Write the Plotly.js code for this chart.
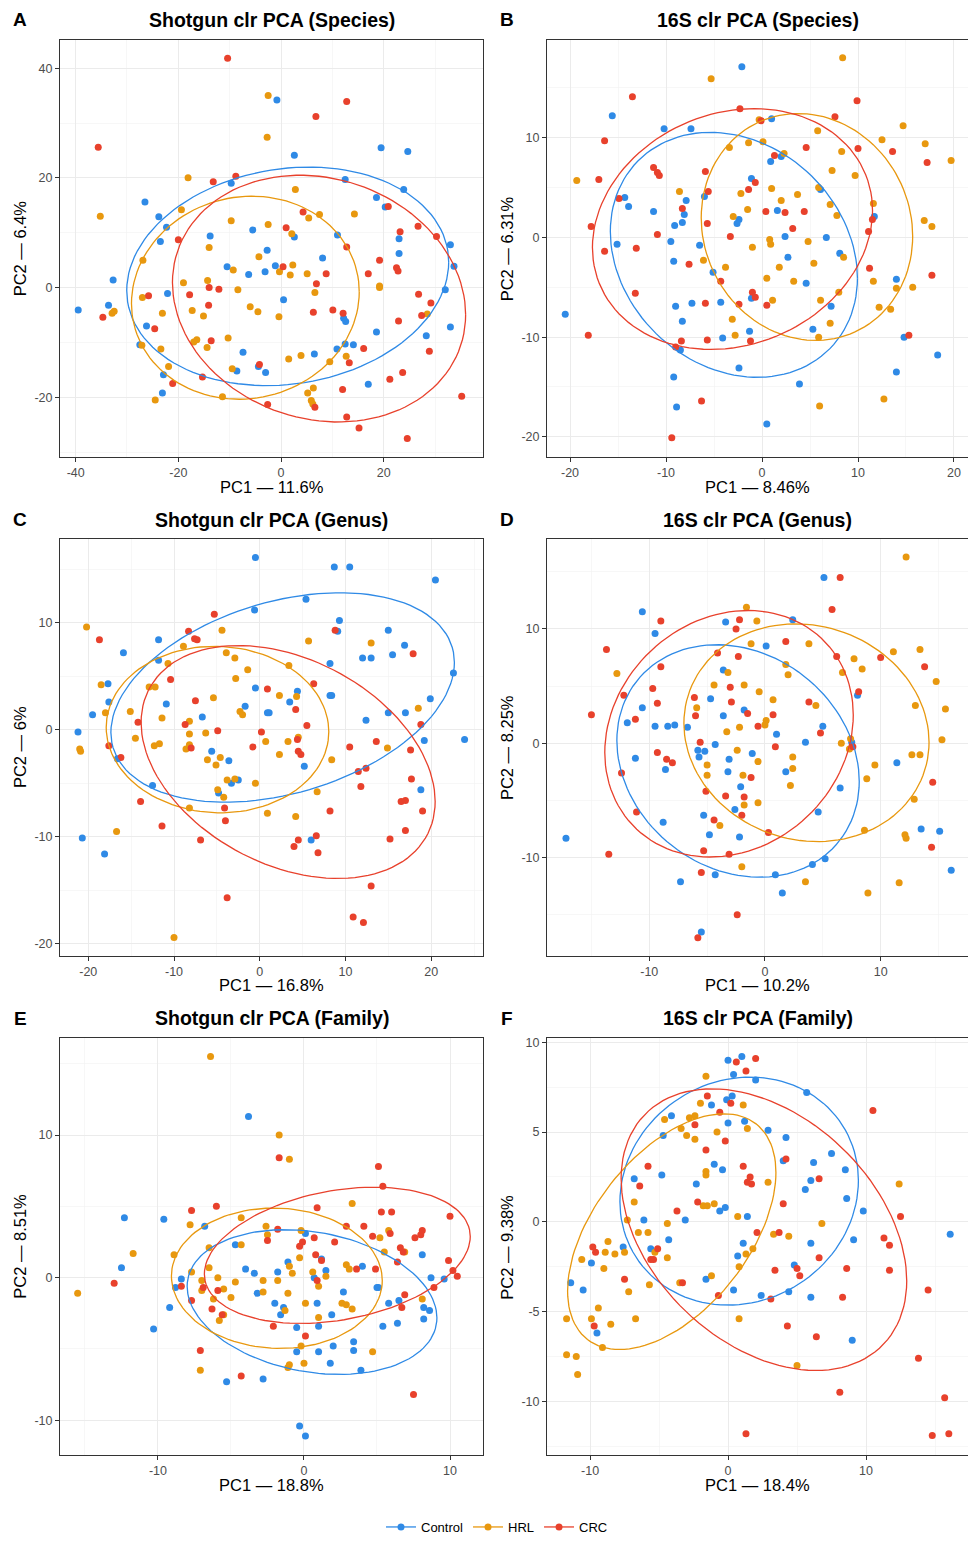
<!DOCTYPE html>
<html><head><meta charset="utf-8">
<script src="https://cdn.plot.ly/plotly-3.0.1.min.js"></script>
<style>html,body{margin:0;padding:0;background:#fff}#chart{width:968px;height:1542px}</style>
</head><body><div id="chart"></div>
<script>
const groups = ['Control', 'HRL', 'CRC'];
const groupColors = ['#2f8ae6', '#e8980f', '#e8412c'];

const panelTitles = ['Shotgun clr PCA (Species)', '16S clr PCA (Species)', 'Shotgun clr PCA (Genus)', '16S clr PCA (Genus)', 'Shotgun clr PCA (Family)', '16S clr PCA (Family)'];
const panelLetters = ['A', 'B', 'C', 'D', 'E', 'F'];
const xTitles = ['PC1 — 11.6%', 'PC1 — 8.46%', 'PC1 — 16.8%', 'PC1 — 10.2%', 'PC1 — 18.8%', 'PC1 — 18.4%'];
const yTitles = ['PC2 — 6.4%', 'PC2 — 6.31%', 'PC2 — 6%', 'PC2 — 8.25%', 'PC2 — 8.51%', 'PC2 — 9.38%'];

const A_xticks = [-40, -20, 0, 20], A_yticks = [-20, 0, 20, 40];
const B_xticks = [-20, -10, 0, 10, 20], B_yticks = [-20, -10, 0, 10];
const C_xticks = [-20, -10, 0, 10, 20], C_yticks = [-20, -10, 0, 10];
const D_xticks = [-10, 0, 10], D_yticks = [-10, 0, 10];
const E_xticks = [-10, 0, 10], E_yticks = [-10, 0, 10];
const F_xticks = [-10, 0, 10], F_yticks = [-10, -5, 0, 5, 10];

const A_Control = [[-26.5,15.6],[-23.8,12.9],[-22.3,11.0],[-23.5,8.4],[-32.7,1.4],[-39.5,-4.1],[-33.6,-3.2],[-22.1,-1.1],[-26.2,-7.0],[-27.5,-10.4],[-22.9,-15.9],[-23.1,-19.2],[-9.7,19.0],[-13.8,9.4],[-5.5,10.5],[-2.7,6.8],[-10.5,3.8],[-6.3,2.4],[-3.1,2.9],[-7.4,-11.8],[-8.6,-15.2],[-4.4,-14.4],[-3.0,-15.5],[-0.8,34.2],[2.6,24.1],[19.5,25.5],[24.7,24.8],[12.5,19.7],[23.9,17.9],[18.6,16.4],[20.3,14.7],[2.6,9.2],[11.0,9.6],[23.0,8.9],[23.0,6.2],[33.0,7.8],[33.7,3.9],[-1.1,4.0],[8.1,5.4],[32.0,-0.4],[0.5,-2.2],[12.2,-5.6],[12.6,-6.2],[18.6,-8.1],[33.0,-7.2],[28.3,-8.8],[10.9,-11.2],[12.5,-10.3],[14.1,-10.4],[6.5,-12.1],[17.0,-17.6]];
const A_HRL = [[-2.5,35.0],[-2.7,27.4],[-18.1,20.0],[-35.2,13.0],[-19.4,14.2],[-9.7,12.2],[-2.5,11.5],[-26.9,5.0],[-14.0,7.3],[-4.3,5.6],[-9.3,3.2],[-19.0,0.9],[-14.3,1.3],[-8.4,-0.4],[-27.0,-1.8],[-32.9,-4.7],[-32.5,-4.3],[-23.1,-4.7],[-17.3,-4.2],[-15.1,-5.2],[-6.0,-3.5],[-4.5,-4.4],[-27.1,-10.5],[-23.4,-11.2],[-17.0,-9.9],[-16.4,-9.5],[-14.4,-10.9],[-10.3,-9.2],[-21.9,-14.4],[-9.5,-14.8],[-24.5,-20.5],[-11.4,-19.9],[2.8,17.9],[5.4,12.7],[7.5,13.3],[14.3,13.4],[2.1,9.8],[2.3,4.1],[-0.3,2.9],[1.8,2.3],[5.1,2.5],[6.6,-0.9],[19.2,0.3],[19.2,0.0],[-0.4,-5.3],[28.5,-4.8],[1.5,-13.0],[3.9,-12.4],[12.7,-12.5],[9.5,-13.5],[5.2,-19.2],[6.3,-18.3],[5.9,-20.6],[6.2,-21.2]];
const A_CRC = [[-10.4,41.8],[-35.6,25.6],[-13.2,19.3],[-8.8,20.3],[-20.0,8.7],[-25.8,-1.5],[-34.7,-5.4],[-24.6,-7.5],[-17.8,-1.3],[-14.0,0.0],[-12.1,-0.3],[-14.1,-3.2],[-13.6,-9.7],[-15.3,-16.3],[-21.1,-17.5],[-4.2,-14.0],[-2.6,-21.3],[12.8,33.9],[6.8,31.2],[4.3,13.8],[1.0,10.9],[20.9,14.8],[23.2,10.2],[26.7,11.2],[30.3,9.3],[12.8,7.4],[19.2,5.0],[22.5,3.6],[22.8,3.0],[17.0,2.5],[8.8,2.5],[0.4,3.8],[6.9,0.7],[26.8,-1.2],[29.2,-2.8],[27.4,-5.1],[22.9,-6.1],[6.3,-4.5],[10.1,-4.1],[12.1,-4.7],[16.1,-11.1],[13.3,-13.7],[28.9,-11.6],[23.7,-15.5],[21.2,-16.7],[12.0,-18.6],[6.6,-21.8],[12.8,-23.6],[15.2,-25.6],[24.6,-27.5],[35.2,-19.8]];

const B_Control = [[-2.1,17.1],[-15.6,12.2],[-10.2,10.9],[-7.4,10.9],[-14.3,4.0],[-13.9,3.1],[-11.3,2.6],[-7.9,3.7],[-8.1,2.3],[-8.3,1.5],[-9.1,1.2],[-6.0,4.1],[-1.1,5.9],[-2.4,1.8],[-2.6,1.4],[-15.1,-0.7],[-9.5,-0.4],[-6.5,-0.8],[-9.2,-2.4],[-5.1,-3.5],[-1.1,-6.1],[-9.0,-6.9],[-7.3,-6.6],[-4.3,-6.5],[-8.3,-8.4],[-20.5,-7.7],[-4.1,-10.1],[-1.3,-9.4],[-8.5,-11.3],[-2.4,-13.1],[-9.2,-14.0],[-8.9,-17.0],[1.0,11.9],[0.9,7.6],[2.0,8.1],[6.1,4.8],[1.6,2.7],[2.4,0.1],[6.7,0.0],[2.7,-2.0],[8.1,-1.6],[11.7,2.1],[4.6,-4.6],[7.2,-6.9],[14.0,-4.2],[5.3,-9.2],[14.8,-10.0],[18.3,-11.8],[14.0,-13.5],[3.9,-14.7],[0.5,-18.7]];
const B_HRL = [[-5.3,15.9],[-19.3,5.7],[-3.4,9.0],[-1.4,9.5],[-8.6,4.6],[-2.2,4.4],[-1.5,2.8],[-3.0,2.1],[-1.0,-1.0],[-6.1,-2.3],[-3.8,-3.0],[-3.1,-8.2],[-2.8,-9.8],[8.4,18.0],[-0.3,11.8],[0.1,9.6],[2.3,8.4],[5.8,10.7],[8.3,8.6],[7.3,6.7],[9.7,6.2],[12.5,9.8],[14.7,11.2],[17.0,9.4],[19.7,7.7],[1.0,4.9],[2.0,3.7],[3.7,4.3],[5.9,5.0],[7.1,3.3],[7.8,2.2],[11.6,3.4],[16.9,1.7],[17.7,1.1],[0.8,-0.2],[0.9,-0.7],[4.8,-0.4],[8.5,-2.0],[5.4,-2.6],[1.8,-3.0],[0.5,-4.1],[3.3,-4.4],[11.6,-4.4],[14.0,-5.1],[15.7,-5.0],[8.0,-5.5],[1.1,-6.3],[6.1,-6.3],[12.2,-7.0],[13.4,-7.2],[7.1,-8.6],[5.9,-10.0],[12.7,-16.2],[6.0,-16.9]];
const B_CRC = [[-13.5,14.1],[-2.3,12.9],[-16.4,9.7],[-17.0,5.8],[-11.3,7.0],[-10.9,6.5],[-10.7,6.2],[-5.9,6.6],[-5.6,4.6],[-0.7,5.5],[-1.4,4.8],[-14.9,3.9],[-8.3,2.9],[-17.8,1.1],[-10.9,0.3],[-5.7,1.4],[-3.3,0.1],[-16.4,-1.4],[-13.1,-1.1],[-7.6,-2.7],[-4.3,-4.4],[-13.2,-5.6],[-1.0,-5.5],[-0.7,-6.0],[-5.9,-6.6],[-2.4,-6.7],[-18.1,-9.8],[-8.4,-10.4],[-9.0,-11.0],[-5.7,-10.3],[-1.2,-10.4],[-6.3,-16.4],[-9.4,-20.1],[9.9,13.7],[-0.1,11.7],[7.6,12.1],[1.3,8.2],[4.6,9.0],[10.0,8.9],[13.6,8.6],[17.2,7.5],[0.4,2.6],[2.4,2.5],[4.4,2.6],[3.2,0.9],[11.5,1.8],[11.1,0.6],[11.2,-3.1],[17.7,-3.8],[0.5,-6.8],[15.3,-9.8]];

const C_Control = [[-0.5,16.1],[-0.6,11.2],[-11.8,8.4],[-15.9,7.2],[-11.8,6.5],[-17.7,4.3],[-17.6,2.6],[-19.5,1.4],[-21.2,-0.2],[-10.9,2.4],[-6.7,1.2],[-1.7,2.2],[-0.5,3.9],[-16.6,-2.7],[-5.6,-2.0],[-3.6,-2.9],[-3.3,-5.0],[-2.5,-4.7],[-12.5,-5.2],[-4.8,-5.9],[-20.7,-10.1],[-18.1,-11.6],[8.7,15.2],[10.5,15.2],[20.5,14.0],[5.4,12.2],[9.3,10.2],[9.1,9.2],[15.0,9.3],[16.9,7.9],[15.5,7.0],[12.0,6.7],[13.0,6.7],[8.2,6.2],[22.6,5.3],[4.4,3.6],[3.5,2.6],[0.9,1.6],[1.1,1.6],[8.2,3.2],[8.4,3.2],[19.9,2.9],[12.4,0.9],[15.0,1.6],[17.0,1.6],[19.2,-1.0],[23.9,-0.9],[5.2,-3.4],[18.8,-5.6],[6.0,-10.3]];
const C_HRL = [[-20.2,9.6],[-18.5,4.2],[-18.0,1.6],[-21.0,-1.8],[-20.9,-2.0],[-15.1,1.7],[-14.5,-0.8],[-12.9,4.0],[-12.2,4.0],[-11.4,1.1],[-12.3,-1.5],[-11.7,-1.3],[-10.7,6.2],[-8.9,7.8],[-4.4,9.3],[-3.9,7.2],[-2.9,6.7],[-2.8,4.8],[-1.4,5.6],[-5.4,3.0],[-8.2,0.8],[-8.2,-0.4],[-6.3,-0.3],[-8.6,-1.8],[-8.2,-1.4],[-2.3,1.7],[-2.0,1.4],[0.7,-1.1],[-6.1,-2.8],[-4.6,-2.6],[-5.1,-3.3],[-3.8,-4.7],[-2.9,-4.6],[-0.5,-5.0],[-4.9,-5.6],[-4.2,-6.3],[-8.2,-7.3],[-16.7,-9.5],[-10.0,-19.4],[5.7,8.3],[13.0,8.1],[3.4,6.0],[2.3,3.2],[4.3,3.1],[3.3,-1.1],[4.5,-0.7],[2.3,-2.3],[8.4,-2.8],[18.5,2.0],[14.9,-1.7],[6.7,-5.8],[0.9,-7.8],[4.2,-8.1]];
const C_CRC = [[-5.3,10.8],[-18.7,8.4],[-8.3,9.2],[-7.6,8.5],[-7.3,8.4],[-10.4,4.7],[-7.5,2.7],[-14.2,0.7],[-8.7,0.5],[-4.9,-0.1],[0.2,-0.2],[-0.8,-1.6],[-17.6,-1.5],[-16.2,-2.6],[-8.0,-1.7],[-13.9,-6.7],[-11.4,-9.0],[-6.9,-10.3],[-4.1,-7.3],[-4.0,-8.5],[-3.8,-15.7],[8.8,9.3],[17.9,7.1],[0.9,3.8],[6.3,4.3],[4.2,1.9],[5.5,0.4],[4.4,-0.9],[4.5,-2.0],[4.8,-2.3],[10.5,-1.6],[13.6,-1.1],[18.8,0.5],[17.6,-1.9],[11.5,-3.9],[12.4,-3.6],[11.8,-5.3],[17.7,-4.6],[16.5,-6.7],[17.0,-6.6],[19.0,-7.6],[8.2,-7.6],[17.0,-9.4],[15.2,-10.2],[6.6,-9.9],[4.5,-10.3],[4.0,-10.9],[6.8,-11.5],[13.0,-14.6],[10.9,-17.5],[12.1,-18.0]];

const D_Control = [[-10.6,11.5],[-9.5,9.6],[-3.4,10.6],[-3.6,6.4],[-4.7,3.9],[-3.6,2.4],[-1.8,2.9],[-10.6,3.1],[-11.9,1.8],[-9.5,1.5],[-8.4,1.5],[-7.8,1.6],[-6.7,1.4],[-4.3,-0.1],[-5.8,-0.6],[-5.2,-0.7],[-5.7,-1.2],[-3.1,-1.4],[-1.1,-0.9],[-11.2,-1.3],[-8.6,-2.3],[-3.2,-2.5],[-2.1,-3.8],[-2.6,-5.8],[-5.3,-6.3],[-8.8,-6.9],[-4.8,-8.0],[-2.2,-8.2],[-17.2,-8.3],[-4.3,-11.5],[-7.3,-12.1],[-5.5,-16.5],[5.1,14.5],[2.4,10.8],[0.1,8.5],[8.0,4.2],[5.0,1.5],[1.0,0.8],[3.5,0.1],[7.5,0.1],[1.8,-2.5],[11.4,-1.7],[6.5,-3.9],[4.6,-6.0],[13.5,-7.5],[15.1,-7.7],[5.2,-10.1],[4.1,-10.6],[0.9,-11.5],[1.5,-13.1],[16.1,-11.1]];
const D_HRL = [[-1.6,11.9],[-1.2,8.7],[-12.8,6.1],[-3.2,6.2],[-4.4,5.1],[-1.8,5.1],[-5.9,3.1],[-3.3,1.0],[-2.2,1.4],[-2.4,-0.6],[-5.0,-1.9],[-5.0,-2.8],[-1.9,-2.8],[-1.8,-5.4],[-3.9,-7.2],[-2.0,-10.8],[12.2,16.3],[-0.7,10.7],[3.8,8.7],[1.8,6.9],[2.0,6.0],[7.7,7.4],[6.7,6.2],[8.4,6.5],[11.1,8.0],[13.4,8.2],[14.8,5.4],[-0.5,4.5],[0.7,3.8],[4.4,3.3],[0.1,2.0],[0.0,1.6],[7.4,0.4],[6.6,0.0],[7.3,-0.5],[-0.6,-1.6],[2.4,-1.2],[2.4,-2.2],[2.2,-3.7],[9.5,-1.9],[8.8,-3.1],[12.7,-1.0],[13.4,-1.0],[13.0,3.3],[15.6,3.0],[15.3,0.3],[12.9,-4.9],[-0.6,-5.2],[8.6,-7.6],[12.1,-8.0],[12.2,-8.3],[3.5,-12.1],[8.9,-13.1],[11.6,-12.2]];
const D_CRC = [[-9.0,10.7],[-2.2,10.8],[-2.5,10.0],[-13.7,8.2],[-4.1,7.9],[-2.3,7.6],[-9.0,6.7],[-9.7,4.8],[-3.0,4.9],[-12.2,4.2],[-9.3,3.5],[-6.1,4.0],[-6.0,2.4],[-2.9,3.6],[-1.5,2.6],[-15.0,2.5],[-11.2,2.1],[-5.6,0.1],[-9.3,-0.8],[-8.5,-1.4],[-8.0,-1.7],[-12.4,-2.6],[-1.2,-3.0],[-5.1,-4.2],[-3.4,-4.6],[-1.8,-4.7],[-2.0,-6.3],[-11.1,-6.0],[-4.4,-6.7],[-13.5,-9.7],[-5.3,-9.4],[-3.1,-9.7],[-5.5,-11.3],[-2.4,-15.0],[-5.8,-17.0],[6.5,14.5],[5.8,11.7],[1.8,8.9],[6.2,7.6],[10.0,7.5],[13.8,6.7],[8.1,4.5],[3.8,3.6],[0.7,2.5],[-0.6,1.5],[4.8,0.9],[0.9,-0.3],[7.6,-0.3],[14.5,-3.4],[0.3,-7.8],[14.4,-9.1]];

const E_Control = [[-3.8,11.3],[-12.3,4.2],[-9.6,4.1],[-6.8,3.6],[-4.7,2.3],[-12.5,0.7],[-8.4,-0.1],[-8.8,-0.7],[-4.0,0.6],[-3.4,0.3],[-3.2,-1.1],[-9.2,-2.1],[-10.3,-3.6],[-5.3,-7.3],[-2.8,-7.1],[0.1,3.1],[-1.1,1.1],[-1.8,0.4],[1.5,0.5],[0.7,0.0],[1.2,1.3],[4.0,0.8],[8.1,1.6],[5.0,-0.7],[5.1,-0.7],[8.7,0.0],[9.6,-0.1],[2.7,-1.0],[-2.0,-1.8],[-1.4,-2.1],[-1.6,-2.6],[0.9,-1.8],[1.9,-2.6],[5.8,-1.8],[6.5,-1.6],[8.2,-2.1],[8.6,-2.3],[8.2,-2.9],[-0.5,-3.5],[1.0,-3.4],[5.4,-3.4],[6.4,-3.2],[-0.5,-5.2],[1.0,-5.2],[2.0,-4.8],[3.4,-4.5],[3.4,-5.1],[1.8,-6.0],[3.9,-6.5],[-0.3,-10.4],[0.1,-11.1]];
const E_HRL = [[-6.4,15.5],[-11.7,1.7],[-15.5,-1.1],[-7.8,3.7],[-8.9,1.6],[-4.3,4.2],[-4.3,2.3],[-6.5,2.1],[-7.7,0.4],[-6.5,0.7],[-5.9,0.0],[-7.0,-0.2],[-7.0,-0.9],[-5.5,-0.8],[-6.2,-1.5],[-5.0,-1.4],[-4.7,-0.3],[-5.5,-2.6],[-5.8,-3.0],[-2.8,-0.2],[-2.8,-1.0],[-2.6,3.6],[-2.5,3.0],[-7.1,-6.5],[-1.7,10.0],[-1.0,8.3],[3.3,5.2],[-0.2,3.3],[5.8,3.3],[5.2,2.8],[5.5,1.8],[6.9,1.8],[-0.3,1.4],[-1.0,0.8],[-0.8,0.3],[-1.8,-0.2],[0.6,0.4],[1.5,0.1],[1.0,-0.6],[2.9,0.9],[3.1,0.6],[-1.1,-1.1],[0.1,-1.8],[-1.3,-2.3],[2.6,-1.8],[2.9,-1.9],[3.3,-2.2],[1.0,-2.8],[8.1,-1.5],[-0.2,-4.8],[-1.0,-6.1],[-1.1,-6.3],[0.0,-6.0],[4.7,-5.2]];
const E_CRC = [[-7.7,4.7],[-6.0,5.0],[-13.0,-0.4],[-8.4,-0.6],[-6.9,-0.7],[-5.9,-0.9],[-7.7,-1.6],[-6.3,-2.2],[-5.6,-2.6],[-2.5,2.6],[-7.1,-5.1],[-4.3,-6.9],[-1.7,8.4],[5.1,7.8],[5.4,6.4],[0.9,4.9],[5.3,4.6],[6.0,4.6],[-1.8,3.4],[2.9,3.6],[4.1,3.6],[0.7,2.8],[2.1,2.5],[4.7,2.9],[5.9,3.1],[-0.1,2.5],[-0.3,2.2],[0.8,1.6],[1.2,1.2],[6.6,2.1],[6.8,1.8],[6.4,1.1],[7.6,2.8],[8.0,3.0],[8.1,3.3],[10.0,4.3],[9.9,1.2],[10.2,0.5],[10.5,0.1],[3.6,0.6],[4.9,0.6],[8.9,-0.7],[0.9,-0.2],[6.9,-1.2],[6.7,-2.1],[-2.1,-3.4],[0.1,-4.1],[7.5,-8.2]];

const F_Control = [[0.0,9.0],[1.0,9.2],[0.4,8.2],[2.0,7.9],[-0.1,6.8],[0.3,7.0],[-1.2,6.5],[-4.1,5.9],[-4.7,4.8],[0.0,5.5],[1.2,5.6],[-1.0,3.2],[-0.4,2.9],[-4.8,2.6],[-6.8,2.4],[-2.3,2.1],[-0.6,0.6],[-0.2,0.8],[1.4,0.3],[-6.1,0.1],[-3.1,0.1],[-4.3,-1.0],[-5.6,-1.5],[-7.6,-1.4],[-9.9,-2.3],[1.1,-1.2],[0.7,-1.9],[-11.4,-3.4],[-10.5,-3.8],[-1.6,-3.2],[0.4,-3.8],[-9.5,-6.2],[5.7,7.2],[2.9,5.1],[4.2,4.7],[7.5,3.8],[4.0,3.4],[6.2,3.3],[8.5,2.9],[6.0,2.3],[5.6,1.8],[8.6,1.3],[9.8,0.6],[16.1,-0.7],[6.0,-1.2],[9.1,-1.0],[4.8,-2.4],[2.4,-4.1],[4.4,-3.9],[6.0,-4.2],[9.0,-6.6]];
const F_HRL = [[-1.6,8.1],[-2.0,6.6],[1.1,6.5],[1.4,5.2],[-4.6,5.7],[-2.8,5.8],[-2.4,5.9],[-3.4,5.2],[-3.0,4.8],[-2.4,4.6],[-0.8,5.0],[-1.6,2.8],[-1.6,2.6],[-6.8,1.1],[-1.8,0.9],[-1.5,0.9],[-1.0,1.0],[0.7,0.3],[-7.3,0.1],[-4.4,-0.1],[-6.5,-0.6],[-5.8,-0.6],[-8.7,-1.1],[-8.9,-1.7],[-8.2,-1.8],[-7.5,-1.7],[-5.3,-1.7],[-4.4,-2.0],[1.3,-1.8],[1.8,-1.5],[-10.6,-2.1],[-9.0,-2.6],[0.8,-2.5],[-7.2,-3.9],[-5.7,-3.5],[-3.5,-3.4],[-1.2,-3.0],[-9.4,-4.8],[-11.7,-5.4],[-9.9,-5.4],[-8.5,-5.7],[-6.7,-5.4],[0.8,-5.4],[-9.1,-7.0],[-11.7,-7.4],[-11.0,-7.5],[-10.9,-8.5],[2.9,2.2],[12.4,2.1],[6.8,-0.1],[3.3,-0.7],[4.4,-0.8],[5.0,-8.0]];
const F_CRC = [[0.6,8.9],[1.3,8.4],[2.0,9.1],[-1.5,7.0],[0.2,6.6],[-0.6,6.1],[-2.4,5.4],[-0.2,4.5],[-1.6,4.0],[-5.8,3.1],[-6.4,2.0],[1.1,3.1],[1.6,2.5],[1.4,2.2],[1.7,2.1],[-2.2,1.1],[-3.7,0.6],[-9.8,-1.4],[-9.6,-1.7],[-5.1,-1.5],[-5.6,-2.1],[-5.4,-2.1],[-7.5,-3.2],[-3.3,-3.4],[-0.7,-4.1],[-9.7,-5.8],[10.5,6.2],[4.2,3.5],[6.6,2.4],[4.0,1.0],[12.5,0.3],[2.1,-0.6],[3.7,-0.6],[11.3,-0.9],[11.7,-1.3],[6.6,-2.0],[3.4,-2.7],[5.0,-2.6],[5.2,-3.0],[8.6,-2.6],[11.7,-2.7],[14.5,-3.8],[3.1,-4.3],[8.3,-4.2],[4.3,-5.8],[6.4,-6.4],[13.8,-7.6],[8.1,-9.5],[15.7,-9.8],[14.8,-11.9],[16.0,-11.8],[1.3,-11.8]];

// ---------- layout configuration (positions in px) ----------
const W = 968, H = 1542;
const FONT = 'Liberation Sans, Arial, Helvetica, sans-serif';
const ELLIPSE_LEVEL = 0.75;
const panels = [
  {data:[A_Control,A_HRL,A_CRC], xticks:A_xticks, yticks:A_yticks, xminor:[-30,-10,10,30], yminor:[-30,-10,10,30], xr:[-43.05,39.35], yr:[-30.85,45.15], box:[60,40,483,458], xtY:488, ytX:20, ytY:249, lblY:20},
  {data:[B_Control,B_HRL,B_CRC], xticks:B_xticks, yticks:B_yticks, xminor:[-15,-5,5,15], yminor:[-15,-5,5,15], xr:[-22.4,21.46], yr:[-22.0,19.8], box:[547,40,968,458], xtY:488, ytX:507, ytY:249, lblY:20},
  {data:[C_Control,C_HRL,C_CRC], xticks:C_xticks, yticks:C_yticks, xminor:[-15,-5,5,15,25], yminor:[-15,-5,5,15], xr:[-23.3,26.05], yr:[-21.09,17.86], box:[60,540,483,958], xtY:988, ytX:20, ytY:749, lblY:521},
  {data:[D_Control,D_HRL,D_CRC], xticks:D_xticks, yticks:D_yticks, xminor:[-15,-5,5,15], yminor:[-15,-5,5,15], xr:[-18.84,17.55], yr:[-18.56,17.9], box:[547,540,968,958], xtY:988, ytX:507, ytY:749, lblY:521},
  {data:[E_Control,E_HRL,E_CRC], xticks:E_xticks, yticks:E_yticks, xminor:[-15,-5,5], yminor:[-5,5,15], xr:[-16.71,12.26], yr:[-12.45,16.78], box:[60,1041,483,1459], xtY:1489, ytX:20, ytY:1250, lblY:1021},
  {data:[F_Control,F_HRL,F_CRC], xticks:F_xticks, yticks:F_yticks, xminor:[-5,5,15], yminor:[-12.5,-7.5,-2.5,2.5,7.5], xr:[-13.12,17.39], yr:[-13.0,10.22], box:[547,1041,968,1459], xtY:1489, ytX:507, ytY:1250, lblY:1021}
];

// ---------- stat_ellipse (type "t") computed from the points ----------
function covTrob(pts, nu, maxit, tol) {
  const n = pts.length, p = 2;
  let loc = [0, 0];
  pts.forEach(q => { loc[0] += q[0] / n; loc[1] += q[1] / n; });
  let w = new Array(n).fill(1);
  let X = null;
  for (let it = 0; it < maxit; it++) {
    const w0 = w.slice();
    X = pts.map(q => [q[0] - loc[0], q[1] - loc[1]]);
    const sw = w.reduce((s, v) => s + v, 0);
    let a = 0, b = 0, c = 0;
    X.forEach((v, i) => { const f = w[i] / sw; a += f * v[0] * v[0]; b += f * v[0] * v[1]; c += f * v[1] * v[1]; });
    const det = a * c - b * b;
    const Q = X.map(v => (c * v[0] * v[0] - 2 * b * v[0] * v[1] + a * v[1] * v[1]) / det);
    w = Q.map(q => (nu + p) / (nu + q));
    const sw2 = w.reduce((s, v) => s + v, 0);
    loc = [0, 0];
    pts.forEach((q, i) => { loc[0] += w[i] * q[0] / sw2; loc[1] += w[i] * q[1] / sw2; });
    let done = true;
    for (let i = 0; i < n; i++) if (Math.abs(w[i] - w0[i]) >= tol) { done = false; break; }
    if (done) break;
  }
  let a = 0, b = 0, c = 0;
  X.forEach((v, i) => { a += w[i] * v[0] * v[0] / n; b += w[i] * v[0] * v[1] / n; c += w[i] * v[1] * v[1] / n; });
  return {center: loc, cov: [a, b, c]};
}
function ellipse(pts, level) {
  const n = pts.length;
  const {center, cov} = covTrob(pts, 5, 25, 0.01);
  const [a, b, c] = cov;
  const d = n - 1;
  const qf = (d / 2) * (Math.pow(1 - level, -2 / d) - 1);
  const r = Math.sqrt(2 * qf);
  const R11 = Math.sqrt(a), R12 = b / R11, R22 = Math.sqrt(c - R12 * R12);
  const xs = [], ys = [];
  const seg = 120;
  for (let k = 0; k <= seg; k++) {
    const t = k * 2 * Math.PI / seg, ct = Math.cos(t), st = Math.sin(t);
    xs.push(center[0] + r * ct * R11);
    ys.push(center[1] + r * (ct * R12 + st * R22));
  }
  return {xs, ys};
}

// ---------- build ----------
const traces = [];
const layout = {
  width: W, height: H,
  margin: {l: 0, r: 0, t: 0, b: 0},
  paper_bgcolor: '#ffffff', plot_bgcolor: '#ffffff',
  font: {family: FONT, color: '#000'},
  showlegend: true,
  legend: {orientation: 'h', x: 497 / W, xanchor: 'center', y: 1 - 1531 / H, yanchor: 'middle',
           font: {size: 13, family: FONT, color: '#000'}, itemwidth: 30, bgcolor: 'rgba(0,0,0,0)', tracegroupgap: 0},
  annotations: []
};

panels.forEach((p, i) => {
  const k = i === 0 ? '' : String(i + 1);
  const [l, t, r, b] = p.box;
  const common = {
    showline: true, mirror: true, linecolor: '#333333', linewidth: 1,
    ticks: 'outside', ticklen: 4, tickwidth: 1, tickcolor: '#333333',
    tickfont: {size: 12.5, color: '#4d4d4d', family: FONT},
    showgrid: true, gridcolor: '#ebebeb', gridwidth: 1, zeroline: false,
    tickmode: 'array'
  };
  layout['xaxis' + k] = Object.assign({}, common, {
    domain: [l / W, r / W], anchor: 'y' + k, range: p.xr, fixedrange: true,
    tickvals: p.xticks, ticktext: p.xticks.map(String),
    minor: {tickmode: 'array', tickvals: p.xminor, showgrid: true, gridcolor: '#f2f2f2', gridwidth: 0.6, ticks: ''}
  });
  layout['yaxis' + k] = Object.assign({}, common, {
    domain: [1 - b / H, 1 - t / H], anchor: 'x' + k, range: p.yr, fixedrange: true,
    tickvals: p.yticks, ticktext: p.yticks.map(String),
    minor: {tickmode: 'array', tickvals: p.yminor, showgrid: true, gridcolor: '#f2f2f2', gridwidth: 0.6, ticks: ''}
  });

  p.data.forEach((pts, g) => {
    traces.push({
      type: 'scatter', mode: 'markers', xaxis: 'x' + k, yaxis: 'y' + k,
      x: pts.map(q => q[0]), y: pts.map(q => q[1]),
      marker: {color: groupColors[g], size: 7, line: {width: 0}},
      showlegend: false, hoverinfo: 'skip'
    });
  });
  p.data.forEach((pts, g) => {
    const e = ellipse(pts, ELLIPSE_LEVEL);
    traces.push({
      type: 'scatter', mode: 'lines', xaxis: 'x' + k, yaxis: 'y' + k,
      x: e.xs, y: e.ys, line: {color: groupColors[g], width: 1.3},
      showlegend: false, hoverinfo: 'skip'
    });
  });

  const cx = (l + r) / 2;
  const lblX = l < 300 ? 20 : 507;
  layout.annotations.push({text: '<b>' + panelTitles[i] + '</b>', x: cx / W, y: 1 - p.lblY / H, xref: 'paper', yref: 'paper',
    xanchor: 'center', yanchor: 'middle', showarrow: false, font: {size: 19.5, family: FONT, color: '#000'}});
  layout.annotations.push({text: '<b>' + panelLetters[i] + '</b>', x: lblX / W, y: 1 - p.lblY / H, xref: 'paper', yref: 'paper',
    xanchor: 'center', yanchor: 'middle', showarrow: false, font: {size: 19, family: FONT, color: '#000'}});
  layout.annotations.push({text: xTitles[i], x: cx / W, y: 1 - p.xtY / H, xref: 'paper', yref: 'paper',
    xanchor: 'center', yanchor: 'middle', showarrow: false, font: {size: 16.5, family: FONT, color: '#000'}});
  layout.annotations.push({text: yTitles[i], x: p.ytX / W, y: 1 - p.ytY / H, xref: 'paper', yref: 'paper',
    xanchor: 'center', yanchor: 'middle', textangle: -90, showarrow: false, font: {size: 16.5, family: FONT, color: '#000'}});
});

groups.forEach((gname, g) => {
  traces.push({
    type: 'scatter', mode: 'lines+markers', name: gname, x: [null], y: [null], xaxis: 'x', yaxis: 'y',
    marker: {color: groupColors[g], size: 7}, line: {color: groupColors[g], width: 1.3},
    showlegend: true, hoverinfo: 'skip'
  });
});

Plotly.newPlot('chart', traces, layout, {staticPlot: true, displayModeBar: false});
</script>
</body></html>
